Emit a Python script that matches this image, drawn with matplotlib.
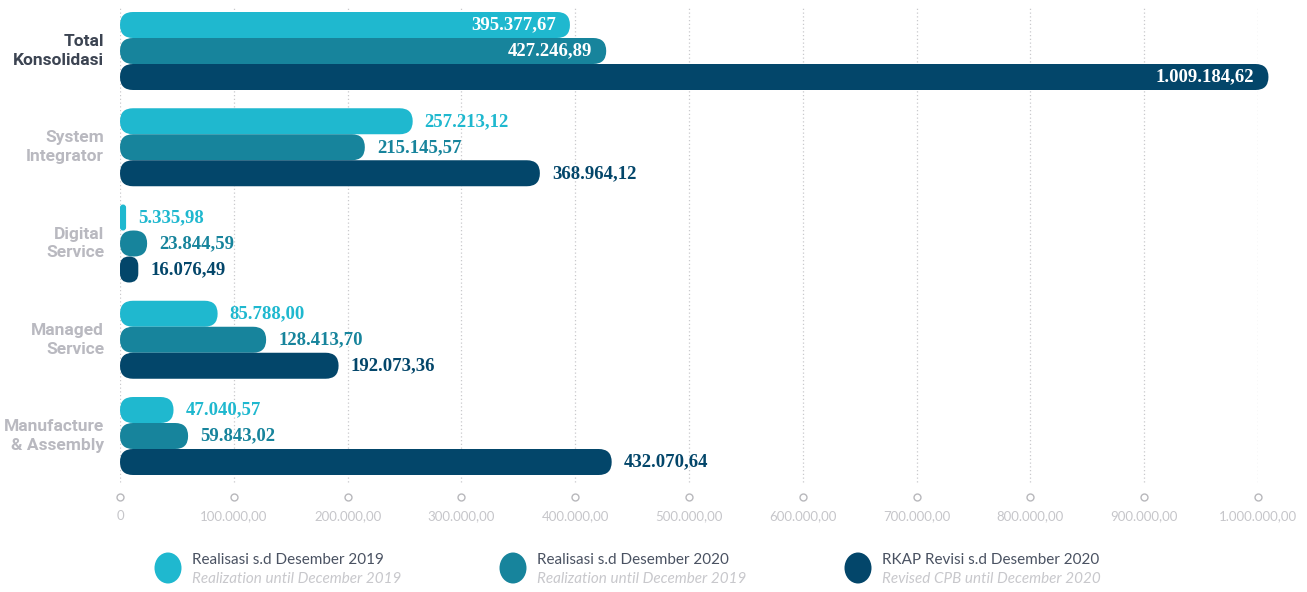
import numpy as np
import matplotlib.pyplot as plt
from matplotlib.patches import FancyBboxPatch, Ellipse
import matplotlib.transforms as mtransforms

# data
categories = ['Total\nKonsolidasi', 'System\nIntegrator', 'Digital\nService', 'Managed\nService', 'Manufacture\n& Assembly']
real_2019 = [395377.67, 257213.12, 5335.98, 85788.00, 47040.57]
real_2020 = [427246.89, 215145.57, 23844.59, 128413.70, 59843.02]
rkap_2020 = [1009184.62, 368964.12, 16076.49, 192073.36, 432070.64]
series = [real_2019, real_2020, rkap_2020]
legend_main = ['Realisasi s.d Desember 2019', 'Realisasi s.d Desember 2020', 'RKAP Revisi s.d Desember 2020']
legend_sub = ['Realization until December 2019', 'Realization until December 2019', 'Revised CPB until December 2020']
ticks = np.arange(0, 1000001, 100000)

colors = ['#1fb8cf', '#17849c', '#03466a']
W, H = 1307, 592

def fmt(v, dec=2):
    s = f'{v:,.{dec}f}'
    return s.replace(',', '#').replace('.', ',').replace('#', '.')

fig = plt.figure(figsize=(W / 100, H / 100), dpi=100)
ax_l, ax_r, ax_t, ax_b = 120, 1258, 8, 497
ax = fig.add_axes([ax_l / W, 1 - ax_b / H, (ax_r - ax_l) / W, (ax_b - ax_t) / H])

# y units: one group = 96.25 px
gp = 96.25
ax.set_xlim(0, 1e6)
ax.set_ylim(4 + 61 / gp, -43 / gp)
for s in ax.spines.values():
    s.set_visible(False)
ax.set_xticks([])
ax.set_yticks([])

xpp = 1e6 / (ax_r - ax_l)   # data per px (x)
ypp = 1 / gp                # data per px (y)
bh = 26 * ypp
r_px = 13

# grid
for t in ticks:
    ax.axvline(t, ymin=0.03, ymax=1, color='#c9c9cc', lw=0.9, ls=(0, (1, 2)), zorder=0)
trans = mtransforms.blended_transform_factory(ax.transData, ax.transAxes)
ax.plot(ticks, np.zeros(len(ticks)), 'o', ms=5, mfc='white', mec='#b8b8bc', mew=1,
        transform=trans, clip_on=False, zorder=1)
for t in ticks:
    lbl = '0' if t == 0 else fmt(t)
    ax.text(t, -19 / (ax_b - ax_t), lbl, transform=trans, ha='center', va='center',
            color='#c6c6ca', fontsize=9.5, family=['Lato', 'DejaVu Sans'])

# bars
for i in range(len(categories)):
    for j, vals in enumerate(series):
        v = vals[i]
        yc = i + (j - 1) * bh
        rx = min(r_px * xpp, v / 2)
        m = (r_px * ypp) / (r_px * xpp)
        p = FancyBboxPatch((0, yc - bh / 2), v, bh,
                           boxstyle=f'round,pad=0,rounding_size={rx}',
                           mutation_aspect=m, fc=colors[j], ec='none',
                           clip_on=False, zorder=2 + j)
        ax.add_patch(p)
        if i == 0:
            ax.annotate(fmt(v), (v, yc), xytext=(-14 * 0.72, 0), textcoords='offset points',
                        ha='right', va='center', color='white', fontsize=13.5, fontweight='bold',
                        family=['Liberation Serif', 'DejaVu Serif'], zorder=10,
                        annotation_clip=False)
        else:
            ax.annotate(fmt(v), (v, yc), xytext=(12 * 0.72, 0), textcoords='offset points',
                        ha='left', va='center', color=colors[j], fontsize=13.5, fontweight='bold',
                        family=['Liberation Serif', 'DejaVu Serif'], zorder=10,
                        annotation_clip=False)

# category labels
for i, c in enumerate(categories):
    col = '#3c4452' if i == 0 else '#b9b9c0'
    ax.text(-16 * xpp, i, c, ha='right', va='center', fontsize=12.5, fontweight='bold',
            color=col, linespacing=1.3, clip_on=False,
            family=['Roboto', 'DejaVu Sans'])

# legend
lx = [168, 513, 858]
for k in range(3):
    e = Ellipse((lx[k] / W, 1 - 568 / H), 27 / W, 31 / H, transform=fig.transFigure,
                fc=colors[k], ec='none')
    fig.add_artist(e)
    fig.text((lx[k] + 24) / W, 1 - 560 / H, legend_main[k], ha='left', va='center',
             fontsize=11, color='#4a5262', family=['Lato', 'DejaVu Sans'])
    fig.text((lx[k] + 24) / W, 1 - 579 / H, legend_sub[k], ha='left', va='center',
             fontsize=11, style='italic', color='#c8c8cc', family=['Lato', 'DejaVu Sans'])

fig.savefig('out.png', dpi=100)
